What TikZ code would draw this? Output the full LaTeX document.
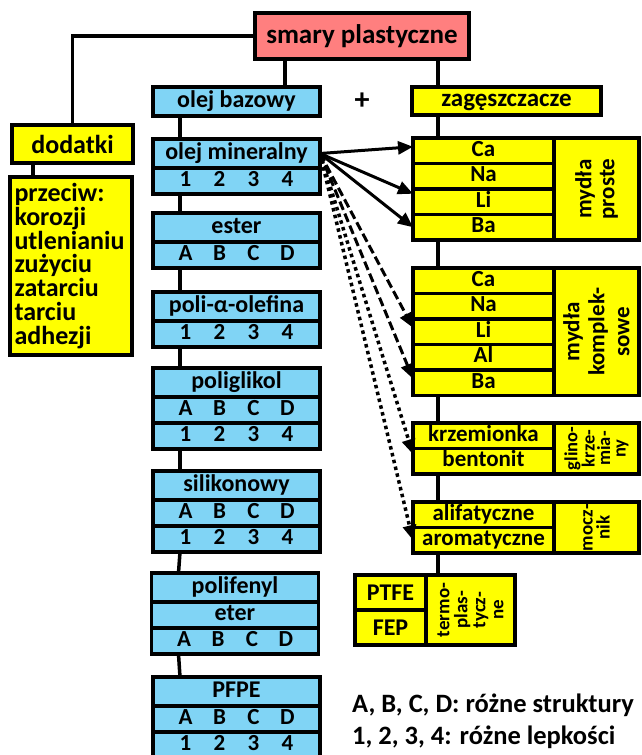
\documentclass[tikz,border=0pt]{standalone}
\usepackage{fontspec}
\setmainfont{Carlito}
\usetikzlibrary{arrows.meta,positioning}
\definecolor{oilblue}{HTML}{80D4F5}
\definecolor{thickyellow}{HTML}{FFFF00}
\definecolor{greasered}{HTML}{FF7F7F}
% bold Carlito at a size given in pt
\newcommand{\fs}[1]{\fontsize{#1}{#1}\selectfont\bfseries}
% four equally spaced grades in one row
\newcommand{\grades}[4]{\makebox[34pt]{#1}\makebox[34pt]{#2}\makebox[34pt]{#3}\makebox[34pt]{#4}}

\begin{document}
\begin{tikzpicture}[x=1pt,y=-1pt,
  box/.style={draw,line width=3.5pt,outer sep=0pt,inner sep=0pt,align=center,font=\fs{24}},
  oil/.style={box,fill=oilblue,minimum width=167pt,minimum height=29pt,text height=16pt,text depth=5pt},
  oilrow/.style={oil,minimum height=26pt,font=\fs{23},text height=15pt,text depth=4pt},
  thk/.style={box,fill=thickyellow},
  soap/.style={thk,minimum width=141pt,minimum height=25.5pt,font=\fs{23},text height=15pt,text depth=4pt},
  side/.style={thk,rotate=90,font=\fs{23}},
  link/.style={line width=3.5pt},
  ar/.style={-{Triangle[length=15pt,width=13pt]},line width=3pt}]
\useasboundingbox (0,0) rectangle (641,755);

\node[box,fill=greasered,font=\fs{27},minimum width=214pt,minimum height=46pt] (smary) at (362,36) {smary plastyczne};

% additives
\node[thk,minimum width=121pt,minimum height=38pt,font=\fs{26}] (dod) at (72.5,144) {dodatki};
\node[thk,anchor=north west,minimum width=122pt,minimum height=178pt,text width=113pt,align=left,inner xsep=4.5pt,font={\fontsize{26}{23.7}\selectfont\bfseries}] (przec) at (10,177)
  {przeciw:\\korozji\\utlenianiu\\zużyciu\\zatarciu\\tarciu\\adhezji};

% base oils
\node[oil] (baza) at (236.5,101.5) {olej bazowy};
\node[oil,anchor=north] (min) at (236.5,139) {olej mineralny};
\node[oilrow,below=0pt of min] (minv) {\grades1234};
\node[oil,anchor=north] (est) at (236.5,213) {ester};
\node[oilrow,below=0pt of est] (ests) {\grades ABCD};
\node[oil,anchor=north] (pao) at (236.5,292) {poli-α-olefina};
\node[oilrow,below=0pt of pao] (paov) {\grades1234};
\node[oil,anchor=north] (pag) at (236.5,368) {poliglikol};
\node[oilrow,below=0pt of pag] (pags) {\grades ABCD};
\node[oilrow,below=0pt of pags] (pagv) {\grades1234};
\node[oil,anchor=north] (sil) at (236.5,471) {silikonowy};
\node[oilrow,below=0pt of sil] (sils) {\grades ABCD};
\node[oilrow,below=0pt of sils] (silv) {\grades1234};
\node[oil,anchor=north] (ppe) at (235,573) {polifenyl};
\node[oilrow,below=0pt of ppe,font=\fs{24}] (ppe2) {eter};
\node[oilrow,below=0pt of ppe2] (ppes) {\grades ABCD};
\node[oil,anchor=north] (pfpe) at (236.5,677) {PFPE};
\node[oilrow,below=0pt of pfpe] (pfpes) {\grades ABCD};
\node[oilrow,below=0pt of pfpes] (pfpev) {\grades1234};

\node[font=\fs{30}] (plus) at (362,101) {+};

% thickeners
\node[thk,minimum width=189pt,minimum height=28pt,text height=16pt,text depth=5pt,font=\fs{25}] (zag) at (506.5,101) {zagęszczacze};

\node[soap,anchor=north west] (ca1) at (413,138) {Ca};
\node[soap,below=0pt of ca1] (na1) {Na};
\node[soap,below=0pt of na1] (li1) {Li};
\node[soap,below=0pt of li1] (ba1) {Ba};
\node[side,minimum width=102pt,minimum height=85pt] (proste) at (596.5,189) {mydła\\proste};

\node[soap,anchor=north west] (ca2) at (413,268) {Ca};
\node[soap,below=0pt of ca2] (na2) {Na};
\node[soap,below=0pt of na2] (li2) {Li};
\node[soap,below=0pt of li2] (al2) {Al};
\node[soap,below=0pt of al2] (ba2) {Ba};
\node[side,minimum width=127.5pt,minimum height=85pt,font={\fontsize{23}{25}\selectfont\bfseries}] (kompl) at (596.5,331.75) {mydła\\komplek-\\sowe};

\node[soap,anchor=north west] (krz) at (413,423) {krzemionka};
\node[soap,below=0pt of krz] (ben) {bentonit};
\node[side,minimum width=51pt,minimum height=85pt,font={\fontsize{18.5}{15.5}\selectfont\bfseries}] (glin) at (596.5,448.5) {glino-\\krze-\\mia-\\ny};

\node[soap,anchor=north west] (ali) at (413,502) {alifatyczne};
\node[soap,below=0pt of ali] (aro) {aromatyczne};
\node[side,minimum width=51pt,minimum height=85pt,font={\fontsize{19}{17}\selectfont\bfseries}] (mocz) at (596.5,527.5) {mocz-\\nik};

\node[thk,anchor=north west,minimum width=71pt,minimum height=35pt] (ptfe) at (355,575) {PTFE};
\node[thk,below=0pt of ptfe,minimum width=71pt,minimum height=35pt] (fep) {FEP};
\node[side,minimum width=70pt,minimum height=89pt,font={\fontsize{19}{18}\selectfont\bfseries}] (termo) at (470.5,610) {termo-\\plas-\\tycz-\\ne};

% legend
\node[anchor=west,inner sep=0pt,font=\fs{26.5}] (leg1) at (352,705) {A, B, C, D: różne struktury};
\node[anchor=west,inner sep=0pt,font=\fs{26.5}] (leg2) at (352,737) {1, 2, 3, 4: różne lepkości};

% tree lines
\draw[link] (smary.west) -| (dod.north);
\draw[link] ([xshift=21pt]dod.south west) -- ([xshift=23pt]przec.north west);
\draw[link] ([xshift=30pt]smary.south west) -- ([xshift=132pt]baza.north west);
\foreach \a/\b in {baza/min,minv/est,ests/pao,paov/pag,pagv/sil,silv/ppe,ppes/pfpe}
  \draw[link] ([xshift=27pt]\a.south west) -- ([xshift=27pt]\b.north west);
\draw[link] ([xshift=-31pt]smary.south east) -- ([xshift=26pt]zag.north west);
\draw[link] ([xshift=26pt]zag.south west) -- ([xshift=25pt]ca1.north west);
\foreach \a/\b in {ba1/ca2,ba2/krz,ben/ali}
  \draw[link] ([xshift=25pt]\a.south west) -- ([xshift=25pt]\b.north west);
\draw[link] ([xshift=25pt]aro.south west) -- ([xshift=83pt]ptfe.north west);

% mineral oil -> thickeners
\draw[ar] (min.east) -- ([yshift=4pt]ca1.west);
\draw[ar] (min.east) -- ([yshift=8pt]li1.west);
\draw[ar] (min.east) -- (ba1.west);
\draw[ar,dash pattern=on 9pt off 4pt] (min.east) -- ([yshift=4pt]li2.west);
\draw[ar,dash pattern=on 9pt off 4pt] (min.east) -- ([yshift=4pt]ba2.west);
\draw[ar,line width=3.5pt,dash pattern=on 3.5pt off 3.5pt] (min.east) -- ([yshift=7pt]ben.west);
\draw[ar,line width=3.5pt,dash pattern=on 3.5pt off 3.5pt] (min.east) -- (aro.west);
\end{tikzpicture}
\end{document}
